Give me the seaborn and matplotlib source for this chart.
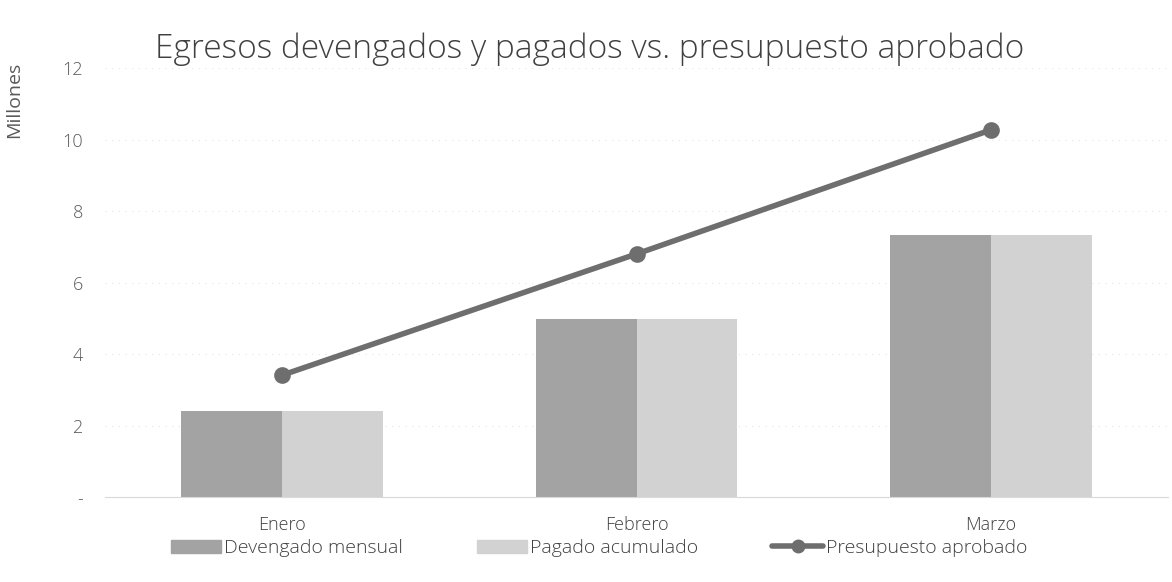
import pandas as pd
import matplotlib
matplotlib.use('Agg')
import matplotlib.pyplot as plt
import seaborn as sns
from matplotlib.patches import Patch
from matplotlib.lines import Line2D

meses = ['Enero', 'Febrero', 'Marzo']
devengado = [2.41, 4.98, 7.33]
pagado = [2.41, 4.98, 7.33]
presupuesto = [3.41, 6.80, 10.27]
yticks = [0, 2, 4, 6, 8, 10, 12]
ytick_labels = ['-', '2', '4', '6', '8', '10', '12']

df = pd.DataFrame({
    'Mes': meses * 2,
    'Valor': devengado + pagado,
    'Serie': ['Devengado mensual'] * 3 + ['Pagado acumulado'] * 3,
})

sns.set_style('white')
plt.rcParams['font.family'] = ['Open Sans', 'DejaVu Sans']
plt.rcParams['font.weight'] = 'light'

fig = plt.figure(figsize=(11.72, 5.82), dpi=100)
ax = fig.add_axes([0.0896, 0.146, 0.907, 0.737])

colores = {'Devengado mensual': '#a3a3a3', 'Pagado acumulado': '#d2d2d2'}
sns.barplot(data=df, x='Mes', y='Valor', hue='Serie', palette=colores,
            width=0.57, gap=0, saturation=1, linewidth=0, ax=ax, legend=False)
sns.pointplot(x=meses, y=presupuesto, color='#6e6e6e', markers='o',
              markersize=9, linewidth=4, ax=ax)

ax.set_xlim(-0.5, 2.5)
ax.set_ylim(0, 12)
ax.set_yticks(yticks)
ax.set_yticklabels(ytick_labels, color='#595959', fontsize=13)
ax.tick_params(axis='both', length=0)
ax.tick_params(axis='y', pad=16)
ax.tick_params(axis='x', pad=14)
ax.set_xticks(range(3))
ax.set_xticklabels(meses, color='#404040', fontsize=13)
ax.set_xlabel('')
ax.set_ylabel('Millones', color='#595959', fontsize=14)
ax.yaxis.set_label_coords(-0.077, 0.925)
for y in yticks[1:]:
    ax.axhline(y, color='#e6e6e6', lw=0.8, ls=(0, (1, 5)), zorder=0)
for s in ['top', 'right', 'left']:
    ax.spines[s].set_visible(False)
ax.spines['bottom'].set_color('#d9d9d9')
ax.spines['bottom'].set_linewidth(0.8)

fig.text(0.503, 0.916, 'Egresos devengados y pagados vs. presupuesto aprobado',
         ha='center', va='center', fontsize=24, color='#404040')

handles = [Patch(color='#a3a3a3', label='Devengado mensual'),
           Patch(color='#d2d2d2', label='Pagado acumulado'),
           Line2D([0], [0], color='#6e6e6e', lw=4, marker='o', markersize=9,
                  label='Presupuesto aprobado')]
fig.legend(handles=handles, loc='center', bbox_to_anchor=(0.511, 0.058), ncol=3,
           frameon=False, fontsize=14, handlelength=2.6, handletextpad=0.15,
           columnspacing=3.8, labelcolor='#404040')

plt.savefig('out.png', dpi=100)
